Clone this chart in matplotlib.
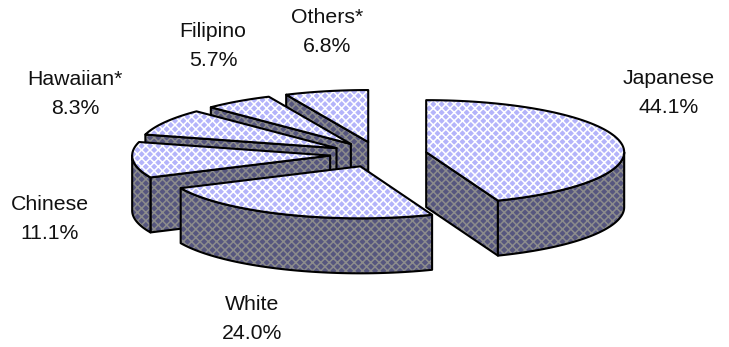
import numpy as np
import matplotlib
matplotlib.use("Agg")
import matplotlib.pyplot as plt
from matplotlib.patches import Polygon

plt.rcParams['font.family'] = ['Liberation Sans', 'DejaVu Sans']
plt.rcParams['hatch.linewidth'] = 1.1

# data
groups = ['Japanese', 'White', 'Chinese', 'Hawaiian*', 'Filipino', 'Others*']
shares = [44.1, 24.0, 11.1, 8.3, 5.7, 6.8]

# layout of the pie, in pixels
cx, cy = 378.5, 154.5
rx, ry = 198, 52
explode = 0.245
depth = 55

label_pos = [(669, 93), (252, 319), (50, 219), (75, 94), (213, 46), (327, 32)]

top_color = '#b4b4fa'
top_hatch = '#ffffff'
wall_color = '#56567e'
wall_hatch = '#8c8c8c'

fig = plt.figure(figsize=(7.29, 3.47), dpi=100)
ax = fig.add_axes([0, 0, 1, 1])
ax.set_xlim(0, 729)
ax.set_ylim(347, 0)
ax.axis('off')


def rim(x0, y0, a):
    # a is in radians, clockwise from 12 o'clock
    return np.column_stack([x0 + rx * np.sin(a), y0 - ry * np.cos(a)])


def face(pts, fc, hc, z):
    ax.add_patch(Polygon(pts, closed=True, facecolor=fc, edgecolor=hc,
                         hatch='xxxx', lw=0, zorder=z))
    ax.add_patch(Polygon(pts, closed=True, fill=False, edgecolor='black',
                         lw=1.5, joinstyle='round', zorder=z + 0.1))


def wall(p, q, z):
    pts = np.vstack([p, q, q + [0, depth], p + [0, depth]])
    face(pts, wall_color, wall_hatch, z)


edges = np.radians(np.concatenate([[0], np.cumsum(shares)]) / sum(shares) * 360)
slices = list(zip(edges[:-1], edges[1:]))
order = sorted(range(len(shares)), key=lambda i: -np.cos(sum(slices[i]) / 2))

for n, i in enumerate(order):
    a1, a2 = slices[i]
    mid = (a1 + a2) / 2
    x0 = cx + explode * rx * np.sin(mid)
    y0 = cy - explode * ry * np.cos(mid)
    apex = np.array([x0, y0])
    z = n * 10

    # radial faces turned to the viewer
    if np.sin(a1) < 0:
        wall(apex, rim(x0, y0, np.array([a1]))[0], z)
    if np.sin(a2) > 0:
        wall(apex, rim(x0, y0, np.array([a2]))[0], z + 1)

    # outer wall, front half of the rim only
    lo, hi = max(a1, np.pi / 2), min(a2, 3 * np.pi / 2)
    if lo < hi:
        arc = rim(x0, y0, np.linspace(lo, hi, 60))
        pts = np.vstack([arc, arc[::-1] + [0, depth]])
        face(pts, wall_color, wall_hatch, z + 2)

    # top
    arc = rim(x0, y0, np.linspace(a1, a2, 80))
    face(np.vstack([apex, arc]), top_color, top_hatch, z + 3)

for name, val, (x, y) in zip(groups, shares, label_pos):
    ax.text(x, y, f'{name}\n{val:.1f}%', ha='center', va='center',
            fontsize=15.3, linespacing=1.7, color='#111111')

fig.savefig('out.png', dpi=100)
